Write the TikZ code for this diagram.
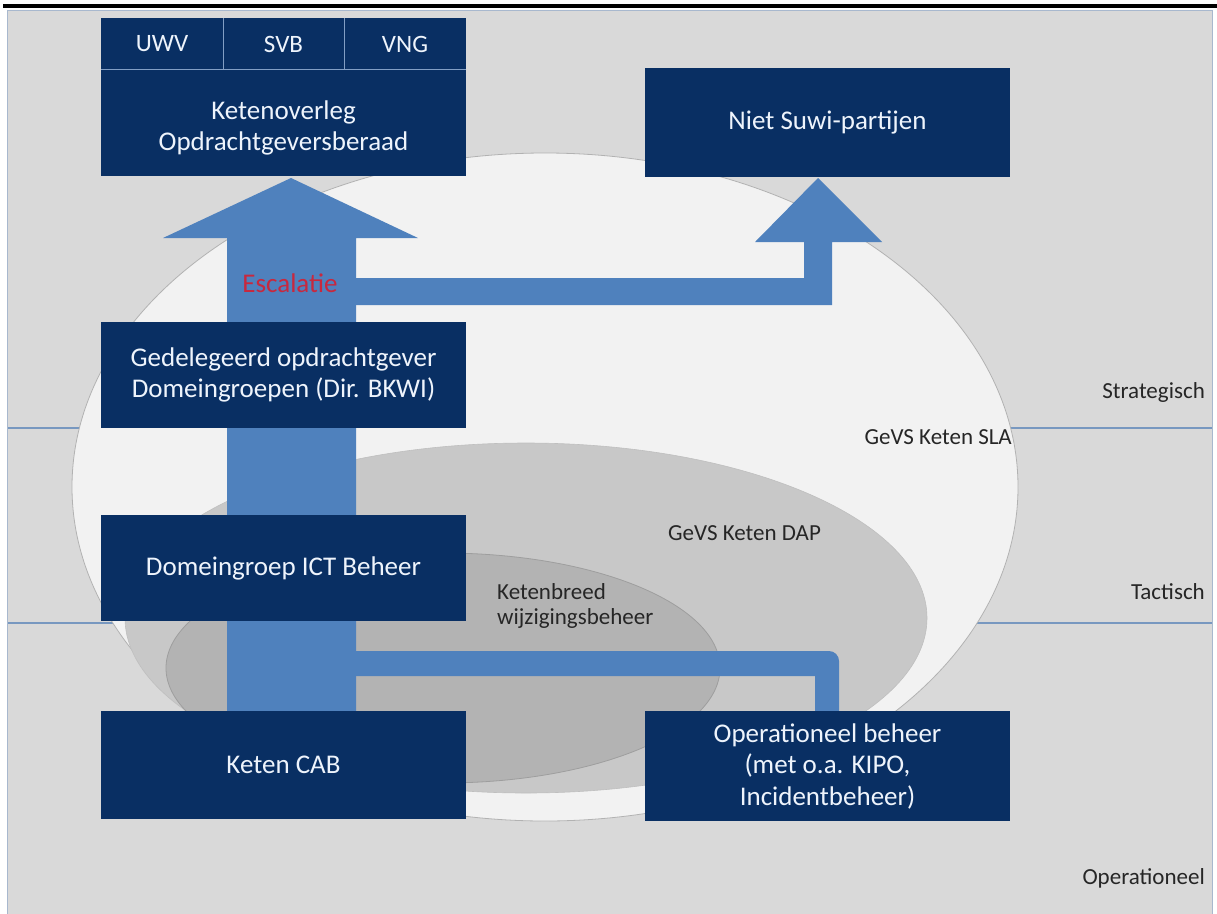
\documentclass[tikz,border=0pt]{standalone}
\usepackage{fontspec}
\setmainfont{Carlito}
\definecolor{navy}{RGB}{9,47,99}
\definecolor{boxtxt}{RGB}{238,244,252}
\definecolor{arrowblue}{RGB}{79,129,189}
\definecolor{panel}{RGB}{217,217,217}
\definecolor{paneledge}{RGB}{168,184,206}
\definecolor{levelline}{RGB}{120,152,192}
\definecolor{slafill}{RGB}{242,242,242}
\definecolor{dapfill}{RGB}{200,200,200}
\definecolor{kbfill}{RGB}{179,179,179}
\definecolor{escred}{RGB}{200,40,62}
\definecolor{divline}{RGB}{130,158,196}
\begin{document}
\begin{tikzpicture}[x=1pt,y=-1pt,
  box/.style={fill=navy, text=boxtxt, minimum width=365pt, align=center, inner sep=0pt,
              font=\fontsize{27}{31.5}\selectfont},
  cell/.style={text=boxtxt, inner sep=0pt, font=\fontsize{25}{29}\selectfont},
  boxlabel/.style={text=boxtxt, align=center, inner sep=0pt, font=\fontsize{27}{31}\selectfont},
  lbl/.style={text=black!85, inner sep=0pt, align=left, font=\fontsize{23}{25}\selectfont},
  fat/.style={fill=arrowblue},
  divider/.style={draw=divline, line width=0.8pt},
  level/.style={draw=levelline, line width=1.3pt}]
\useasboundingbox (0,0) rectangle (1217,913);
% page background
\fill[white] (0,0) rectangle (1217,913);
\fill[black] (3,4) rectangle (1217,7.5);
\filldraw[fill=panel, draw=paneledge, line width=1pt] (7.5,10.5) rectangle (1212.5,915);
% level separators
\coordinate (sl) at (8,428);
\coordinate (sr) at (1212,428);
\coordinate (tl) at (8,623);
\coordinate (tr) at (1212,623);
\draw[level] (sl) -- (sr);
\draw[level] (tl) -- (tr);
% nested ellipses
\filldraw[fill=slafill, draw=black!30, line width=0.8pt] (545,487) ellipse [x radius=473pt, y radius=334pt];
\filldraw[fill=dapfill, draw=black!25, line width=0.6pt] (526,618) ellipse [x radius=401pt, y radius=175pt];
\filldraw[fill=kbfill, draw=black!38, line width=0.8pt] (443,668) ellipse [x radius=277pt, y radius=115pt];
% ellipse labels
\node[lbl, anchor=east] (sla) at (1012,437) {GeVS Keten SLA};
\node[lbl, anchor=west] (dap) at (668,533) {GeVS Keten DAP};
\node[lbl, anchor=west] (kb) at (497,606) {Ketenbreed\\wijzigingsbeheer};
% level labels
\node[lbl, anchor=east] (strat) at (1205,392) {Strategisch};
\node[lbl, anchor=east] (tact) at (1205,592) {Tactisch};
\node[lbl, anchor=east] (operlbl) at (1205,878) {Operationeel};
% blue arrows (under the boxes)
\coordinate (shaftL) at (227,765);
\coordinate (shaftR) at (356,765);
\fill[fat] (shaftL) -- (227,238) -- (163,238) -- (291,178) -- (418,238) -- (356,238) -- (shaftR) -- cycle;
\fill[fat] (356,278) -- (804,278) -- (804,242) -- (755,242) -- (818,178) -- (882,242) -- (832,242) -- (832,305) -- (356,305) -- cycle;
\fill[fat] (356,651) -- (829,651) arc[start angle=90, end angle=0, radius=10pt] -- (839,711) -- (815,711) -- (815,676) -- (356,676) -- cycle;
% boxes
\node[box, minimum height=158pt] (top) at (283.5,97) {};
\node[box, minimum height=109pt] (niet) at (827.5,122.5) {Niet Suwi-partijen};
\node[box, minimum height=106pt] (gedel) at (283.5,375) {Gedelegeerd opdrachtgever\\Domeingroepen (Dir. BKWI)};
\node[box, minimum height=106pt] (ict) at (283.5,568) {Domeingroep ICT Beheer};
\node[box, minimum height=108pt] (cab) at (283.5,765) {Keten CAB};
\node[box, minimum height=110pt] (oper) at (827.5,766) {Operationeel beheer\\(met o.a. KIPO,\\Incidentbeheer)};
% header of top box
\draw[divider] (top.west |- 0,69) -- (top.east |- 0,69);
\draw[divider] (223,18) -- (223,69);
\draw[divider] (344,18) -- (344,69);
\node[cell] (uwv) at (162,44) {UWV};
\node[cell] (svb) at (283.5,44) {SVB};
\node[cell] (vng) at (405,44) {VNG};
\node[boxlabel] (ko) at (283.5,128) {Ketenoverleg\\Opdrachtgeversberaad};
% escalation label
\node[text=escred, inner sep=0pt, font=\fontsize{27}{30}\selectfont] (esc) at (290,283) {Escalatie};
\end{tikzpicture}
\end{document}
